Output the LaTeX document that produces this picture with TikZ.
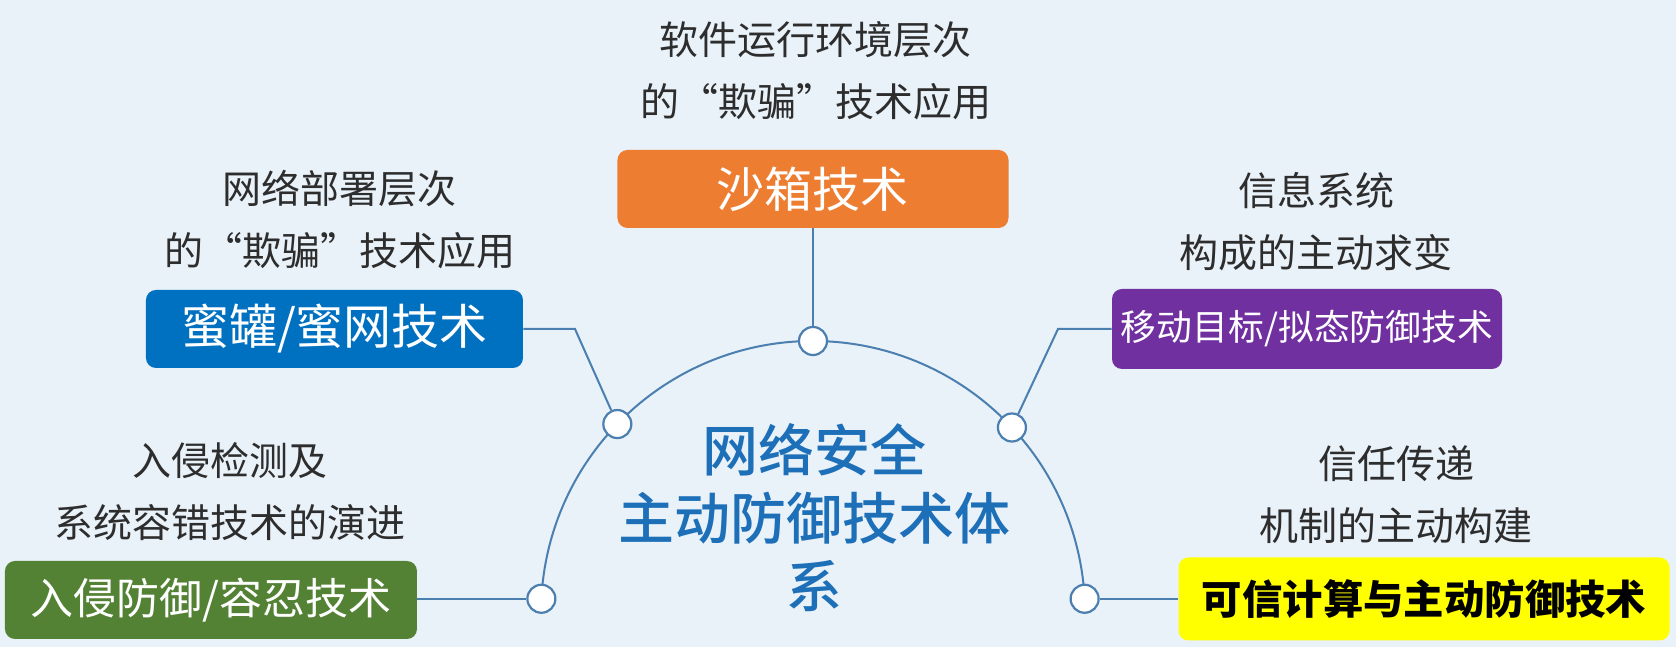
\documentclass[tikz,border=0pt]{standalone}
\usepackage{fontspec}
\setmainfont{Noto Sans CJK SC}
\newfontfamily\titlefont{Noto Sans CJK SC Medium}
\usepackage{tikz}
\usetikzlibrary{positioning,calc,backgrounds}

\definecolor{bgblue}{RGB}{233,241,249}
\definecolor{linec}{RGB}{74,127,176}
\definecolor{titlec}{RGB}{29,111,184}
\definecolor{labelc}{RGB}{45,45,45}
\definecolor{sandc}{RGB}{237,125,49}
\definecolor{honeyc}{RGB}{0,112,192}
\definecolor{mtdc}{RGB}{112,48,160}
\definecolor{idsc}{RGB}{84,130,53}
\definecolor{trustc}{RGB}{255,255,0}

\begin{document}
\begin{tikzpicture}[x=0.5pt,y=0.5pt,
  techbox/.style={rounded corners=5pt, inner sep=0pt, minimum height=39pt, text=white},
  dot/.style={circle, draw=linec, fill=white, line width=1.1pt, minimum size=14pt, inner sep=0pt},
  conn/.style={draw=linec, line width=1pt},
  lbl/.style={text=labelc, align=center, font=\fontsize{19.5}{31}\selectfont}]
% background
\fill[bgblue] (-813,-34) rectangle (863,613);
\useasboundingbox (-813,-34) rectangle (863,613);

% half ring with the five points
\draw[conn] (177:272) arc[start angle=177, end angle=3, radius=272];
\foreach \a/\n in {177/nBL,136/nUL,90/nTop,43/nUR,3/nBR} {
  \node[dot] (\n) at (\a:272) {};
}

% centre title
\node[text=titlec, align=center, font=\titlefont\fontsize{28}{34}\selectfont] (title) at (2,95)
  {网络安全\\主动防御技术体\\系};

% technique boxes
\node[techbox, fill=sandc, minimum width=195.5pt, font=\fontsize{24}{24}\selectfont] (sandbox) at (0,424) {沙箱技术};
\node[techbox, fill=honeyc, minimum width=188.5pt, font=\fontsize{24}{24}\selectfont] (honey) at (-478.5,284) {蜜罐/蜜网技术};
\node[techbox, fill=mtdc, minimum width=195pt, minimum height=40pt, font=\fontsize{17.9}{18}\selectfont] (mtd) at (494,284) {移动目标/拟态防御技术};
\node[techbox, fill=idsc, minimum width=206pt, font=\fontsize{21.5}{22}\selectfont] (ids) at (-602,13) {入侵防御/容忍技术};
\node[techbox, fill=trustc, text=black, minimum width=245.5pt, minimum height=41.5pt, font=\bfseries\fontsize{20.2}{21}\selectfont] (trust) at (611,14) {可信计算与主动防御技术};

% captions
\node[lbl] (sandtxt) at (3,542) {软件运行环境层次\\的“欺骗”技术应用};
\node[lbl] (honeytxt) at (-473,393) {网络部署层次\\的“欺骗”技术应用};
\node[lbl] (mtdtxt) at (503,391.5) {信息系统\\构成的主动求变};
\node[lbl] (idstxt) at (-583,121.5) {入侵检测及\\系统容错技术的演进};
\node[lbl] (trusttxt) at (583,118.5) {信任传递\\机制的主动构建};

% connectors
\coordinate (kL) at (-238,284);
\coordinate (kR) at (245,284);
\draw[conn] (sandbox.south) -- (nTop);
\draw[conn] (honey.east) -- (kL) -- (nUL);
\draw[conn] (mtd.west) -- (kR) -- (nUR);
\draw[conn] (nBL) -- (ids.east |- nBL);
\draw[conn] (nBR) -- (trust.west |- nBR);
\end{tikzpicture}
\end{document}
